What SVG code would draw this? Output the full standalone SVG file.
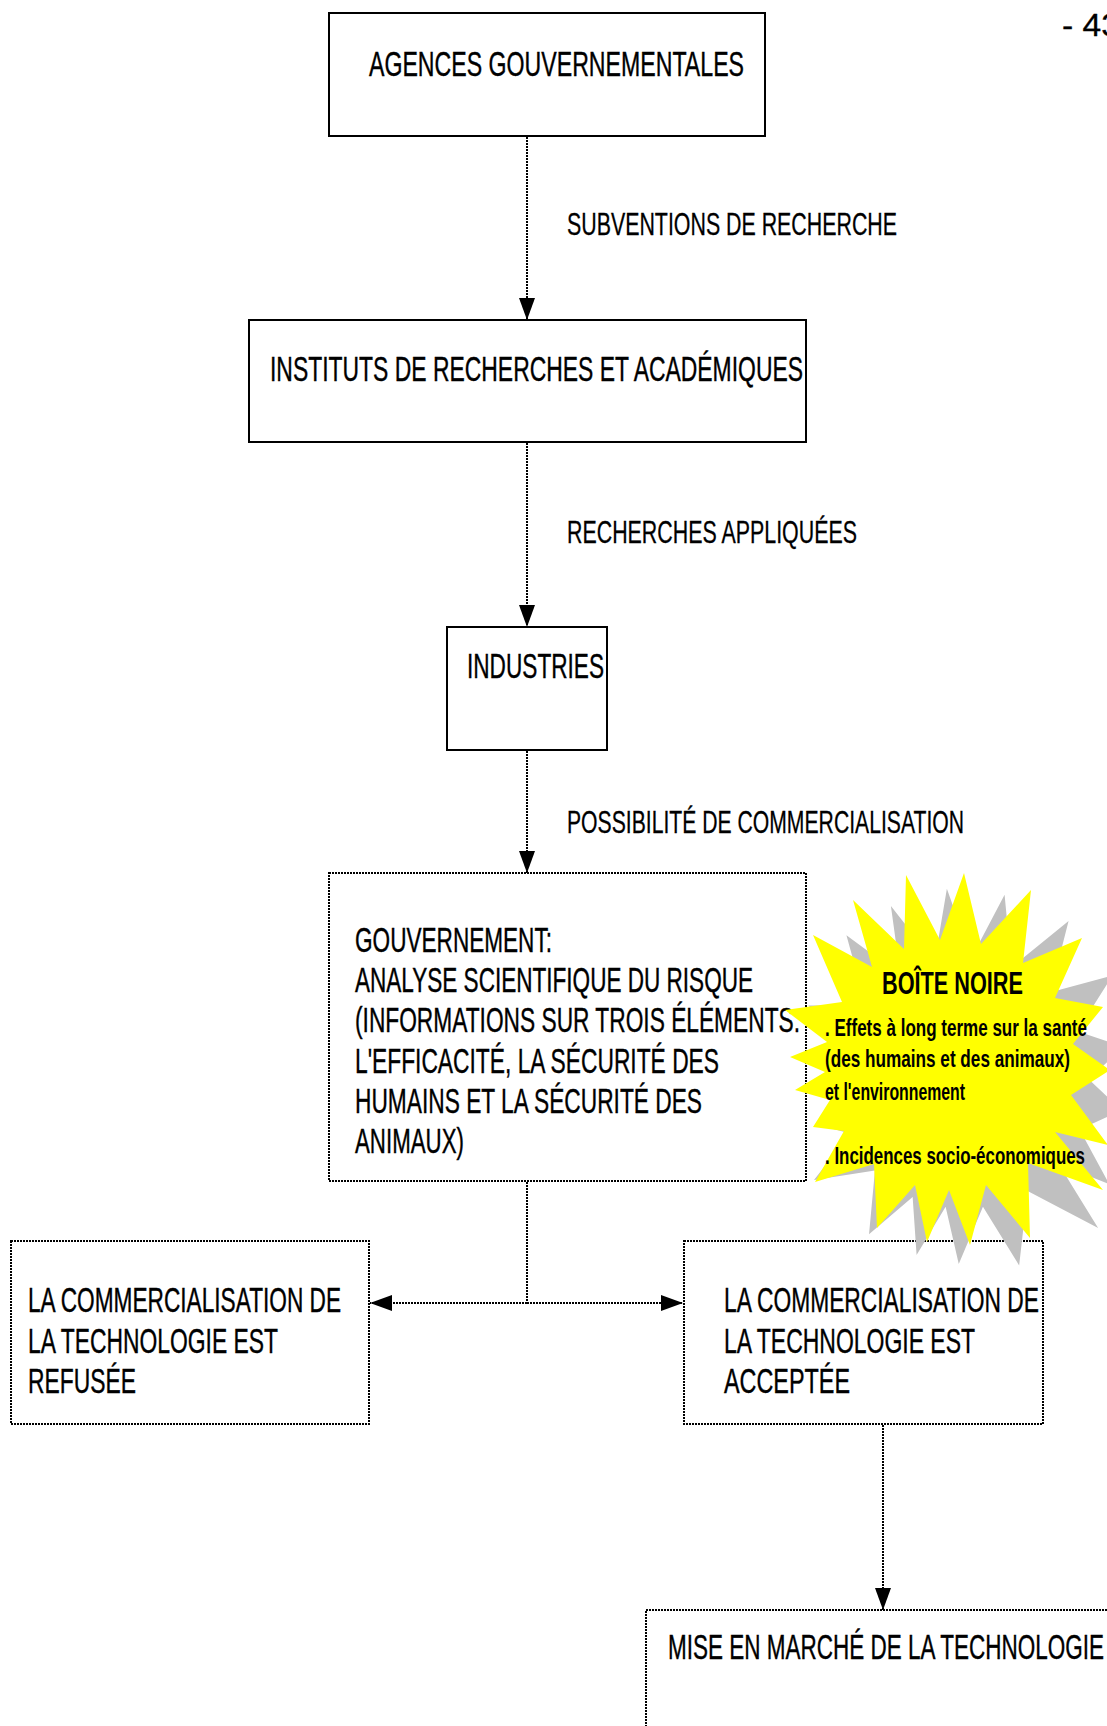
<svg xmlns="http://www.w3.org/2000/svg" width="1107" height="1726" viewBox="0 0 1107 1726">
<style>
.solid{fill:#fff;stroke:#000;stroke-width:2}
.dot{fill:#fff;stroke:#000;stroke-width:2;stroke-dasharray:2 1}
.conn{fill:none;stroke:#000;stroke-width:2;stroke-dasharray:2 1}
.t{font-family:"Liberation Sans",Arial,sans-serif;font-size:35px;fill:#000;stroke:#000;stroke-width:0.4}
.l{font-family:"Liberation Sans",Arial,sans-serif;font-size:32px;fill:#000;stroke:#000;stroke-width:0.3}
.b{font-family:"Liberation Sans",Arial,sans-serif;font-weight:bold;fill:#000}
</style>
<defs>
<marker id="ah" markerUnits="userSpaceOnUse" markerWidth="24" markerHeight="18" refX="22" refY="8" orient="auto">
<path d="M0,0 L22,8 L0,16 Z" fill="#000"/>
</marker>
<polygon id="star" points="906,875 940,940 964,873 981,944 1031,890 1023,963 1082,938 1055,998 1103,1007 1073,1044 1110,1070 1071,1095 1108,1145 1055,1132 1103,1190 1028,1163 1030,1238 986,1185 970,1245 949,1190 927,1242 915,1185 877,1228 874,1164 815,1182 844,1131 813,1127 830,1100 795,1090 825,1072 790,1057 827,1042 785,1010 842,1002 813,935 872,967 853,900 904,949"/>
</defs>
<rect width="1107" height="1726" fill="#fff"/>

<g id="connectors">
<line class="conn" x1="527" y1="137" x2="527" y2="320" marker-end="url(#ah)"/>
<line class="conn" x1="527" y1="443" x2="527" y2="627" marker-end="url(#ah)"/>
<line class="conn" x1="527" y1="751" x2="527" y2="873" marker-end="url(#ah)"/>
<line class="conn" x1="527" y1="1182" x2="527" y2="1303"/>
<line class="conn" x1="527" y1="1303" x2="370" y2="1303" marker-end="url(#ah)"/>
<line class="conn" x1="527" y1="1303" x2="683" y2="1303" marker-end="url(#ah)"/>
<line class="conn" x1="883" y1="1425" x2="883" y2="1610" marker-end="url(#ah)"/>
</g>

<g id="label-subventions"><text class="l" x="567" y="235" textLength="330" lengthAdjust="spacingAndGlyphs">SUBVENTIONS DE RECHERCHE</text></g>
<g id="label-appliquees"><text class="l" x="567" y="543" textLength="290" lengthAdjust="spacingAndGlyphs">RECHERCHES APPLIQUÉES</text></g>
<g id="label-possibilite"><text class="l" x="567" y="833" textLength="397" lengthAdjust="spacingAndGlyphs">POSSIBILITÉ DE COMMERCIALISATION</text></g>

<g id="node-agences">
<rect class="solid" x="329" y="13" width="436" height="123"/>
<text class="t" x="369" y="76" textLength="375" lengthAdjust="spacingAndGlyphs">AGENCES GOUVERNEMENTALES</text>
</g>

<g id="node-instituts">
<rect class="solid" x="249" y="320" width="557" height="122"/>
<text class="t" x="270" y="381" textLength="533" lengthAdjust="spacingAndGlyphs">INSTITUTS DE RECHERCHES ET ACADÉMIQUES</text>
</g>

<g id="node-industries">
<rect class="solid" x="447" y="627" width="160" height="123"/>
<text class="t" x="467" y="678" textLength="137" lengthAdjust="spacingAndGlyphs">INDUSTRIES</text>
</g>

<g id="node-gouvernement">
<rect class="dot" x="329" y="873" width="477" height="308"/>
<text class="t" x="355" y="952" textLength="197" lengthAdjust="spacingAndGlyphs">GOUVERNEMENT:</text>
<text class="t" x="355" y="992" textLength="398" lengthAdjust="spacingAndGlyphs">ANALYSE SCIENTIFIQUE DU RISQUE</text>
<text class="t" x="355" y="1032" textLength="445" lengthAdjust="spacingAndGlyphs">(INFORMATIONS SUR TROIS ÉLÉMENTS:</text>
<text class="t" x="355" y="1073" textLength="364" lengthAdjust="spacingAndGlyphs">L'EFFICACITÉ, LA SÉCURITÉ DES</text>
<text class="t" x="355" y="1113" textLength="347" lengthAdjust="spacingAndGlyphs">HUMAINS ET LA SÉCURITÉ DES</text>
<text class="t" x="355" y="1153" textLength="109" lengthAdjust="spacingAndGlyphs">ANIMAUX)</text>
</g>

<g id="node-refusee">
<rect class="dot" x="11" y="1241" width="358" height="183"/>
<text class="t" x="28" y="1312" textLength="313" lengthAdjust="spacingAndGlyphs">LA COMMERCIALISATION DE</text>
<text class="t" x="28" y="1353" textLength="250" lengthAdjust="spacingAndGlyphs">LA TECHNOLOGIE EST</text>
<text class="t" x="28" y="1393" textLength="108" lengthAdjust="spacingAndGlyphs">REFUSÉE</text>
</g>

<g id="node-acceptee">
<rect class="dot" x="684" y="1241" width="359" height="183"/>
<text class="t" x="724" y="1312" textLength="315" lengthAdjust="spacingAndGlyphs">LA COMMERCIALISATION DE</text>
<text class="t" x="724" y="1353" textLength="251" lengthAdjust="spacingAndGlyphs">LA TECHNOLOGIE EST</text>
<text class="t" x="724" y="1393" textLength="126" lengthAdjust="spacingAndGlyphs">ACCEPTÉE</text>
</g>

<g id="node-mise-en-marche">
<rect class="dot" x="646" y="1610" width="520" height="200"/>
<text class="t" x="668" y="1659" textLength="436" lengthAdjust="spacingAndGlyphs">MISE EN MARCHÉ DE LA TECHNOLOGIE</text>
</g>

<g id="node-boite-noire">
<use href="#star" fill="#c0c0c0" transform="translate(14 18) rotate(8 950 1065)"/>
<use href="#star" fill="#ffff00"/>
<text class="b" x="882" y="994" font-size="32" textLength="141" lengthAdjust="spacingAndGlyphs">BOÎTE NOIRE</text>
<text class="b" x="825" y="1036" font-size="24" textLength="262" lengthAdjust="spacingAndGlyphs">. Effets à long terme sur la santé</text>
<text class="b" x="825" y="1067" font-size="24" textLength="245" lengthAdjust="spacingAndGlyphs">(des humains et des animaux)</text>
<text class="b" x="825" y="1100" font-size="24" textLength="140" lengthAdjust="spacingAndGlyphs">et l'environnement</text>
<text class="b" x="825" y="1164" font-size="24" textLength="260" lengthAdjust="spacingAndGlyphs">. Incidences socio-économiques</text>
</g>

<g id="page-number"><text class="l" x="1062" y="36" textLength="58" lengthAdjust="spacingAndGlyphs">- 43</text></g>
</svg>
